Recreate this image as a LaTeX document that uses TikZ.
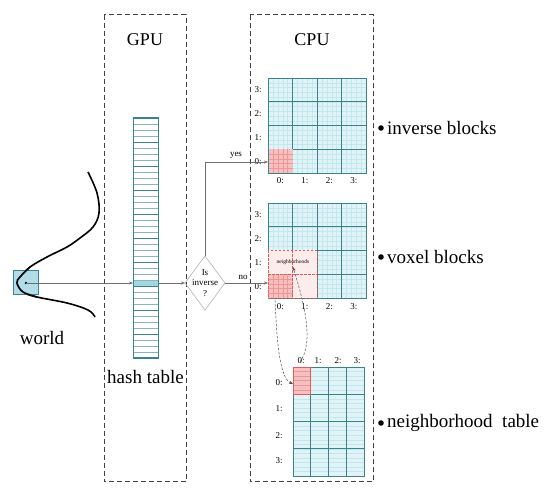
\documentclass[tikz,border=0pt]{standalone}
\usepackage{fontspec}
\setmainfont{Liberation Serif}
\usetikzlibrary{arrows.meta}
\definecolor{cyfill}{RGB}{224,243,246}
\definecolor{cyminor}{RGB}{196,230,237}
\definecolor{cymajor}{RGB}{60,130,140}
\definecolor{rdfill}{RGB}{247,192,192}
\definecolor{rdminor}{RGB}{238,150,150}
\definecolor{rdline}{RGB}{226,90,90}
\definecolor{pkfill}{RGB}{253,236,236}
\definecolor{hilite}{RGB}{160,215,228}
\definecolor{worldfill}{RGB}{150,210,225}
\definecolor{arrowgray}{RGB}{110,110,110}
\newcommand\cyanblock[4]{%
  \fill[cyfill] (#1,#2) rectangle ++(#3,#4);
  \foreach \i in {1,...,19} {
    \draw[minor] ({#1+\i*#3/20},#2) -- ++(0,#4);
    \draw[minor] (#1,{#2+\i*#4/20}) -- ++(#3,0);
  }
  \foreach \i in {1,2,3} {
    \draw[major] ({#1+\i*#3/4},#2) -- ++(0,#4);
    \draw[major] (#1,{#2+\i*#4/4}) -- ++(#3,0);
  }
}
\newcommand\redcell[4]{%
  \fill[rdfill] (#1,#2) rectangle ++(#3,#4);
  \foreach \i in {1,...,4} {
    \draw[rdminor] ({#1+\i*#3/5},#2) -- ++(0,#4);
    \draw[rdminor] (#1,{#2+\i*#4/5}) -- ++(#3,0);
  }
}
\begin{document}
\begin{tikzpicture}[x=1pt,y=-1pt,
  minor/.style={draw=cyminor, line width=0.3pt},
  major/.style={draw=cymajor, line width=0.6pt},
  rdminor/.style={draw=rdminor, line width=0.3pt},
  region/.style={draw=black!75, line width=1pt, dash pattern=on 5pt off 3pt},
  title/.style={font=\fontsize{18}{18}\selectfont, inner sep=0pt},
  biglabel/.style={font=\fontsize{19}{19}\selectfont, inner sep=0pt, anchor=west},
  small/.style={font=\fontsize{9}{9}\selectfont, inner sep=0pt},
  flow/.style={draw=arrowgray, line width=0.5pt, -{Stealth[length=4pt,width=3pt]}},
  link/.style={draw=black!70, line width=0.5pt, dash pattern=on 2.5pt off 1.5pt, -{Stealth[length=4pt,width=3pt]}},
  blockframe/.style={draw=cymajor, line width=0.7pt, inner sep=0pt, anchor=north west},
]
\useasboundingbox (0,0) rectangle (550,497);
\fill[white] (0,0) rectangle (550,497);

% dashed regions
\draw[region] (104,15) rectangle (186,482);
\draw[region] (250,15) rectangle (373,482);
\node[title] (gpu) at (145,40) {GPU};
\node[title] (cpu) at (312,40) {CPU};

% world
\draw[black, line width=1.6pt] plot[smooth, tension=0.6] coordinates {(88,172) (97,193) (99,213) (93,227) (80,238) (67,247) (47,257) (30,267) (20,277) (17,283) (23,292) (37,297) (67,303) (88,310) (95,317)};
\node[draw=cymajor, fill=worldfill, fill opacity=0.75, text opacity=1, line width=0.8pt, minimum width=25pt, minimum height=24pt, inner sep=0pt] (world) at (25.5,282) {};
\draw[black, line width=1.6pt] plot[smooth, tension=0.6] coordinates {(30,267) (20,277) (17,283) (23,292) (37,297)};
\fill (26,283) circle (1.3pt);
\coordinate (wdot) at (26,283);
\node[font=\fontsize{19}{19}\selectfont, inner sep=0pt] (worldlbl) at (42,338) {world};

% hash table
\node[draw=cymajor, line width=1pt, minimum width=25pt, minimum height=240pt, inner sep=0pt, anchor=north west] (hash) at (133,118) {};
\fill[hilite] (133,280) rectangle (158,286);
\foreach \r in {1,...,39} {
  \draw[draw=cymajor!60, line width=0.35pt] (133,{118+6*\r}) -- (158,{118+6*\r});
}
\foreach \r in {1,...,9} {
  \draw[draw=cymajor, line width=0.9pt] (133,{118+24*\r}) -- (158,{118+24*\r});
}
\draw[draw=cymajor, line width=1pt] (133,118) rectangle (158,358);
\coordinate (hashrow) at (133,283);
\coordinate (hashout) at (158,283);
\node[font=\fontsize{19}{19}\selectfont, inner sep=0pt] (hashlbl) at (145.5,377) {hash table};

% decision diamond
\coordinate (dl) at (185,283);
\coordinate (dr) at (225,283);
\coordinate (dt) at (205,256);
\coordinate (db) at (205,310);
\draw[draw=black!30, line width=0.6pt] (dl) -- (dt) -- (dr) -- (db) -- cycle;
\node[font=\fontsize{9}{10}\selectfont, align=center, inner sep=0pt] (isinv) at (205,283) {Is\\[0.3pt]inverse\\[0.3pt]?};

% inverse blocks
\cyanblock{268}{78}{98}{95}
\redcell{268}{149.25}{24.5}{23.75}
\node[blockframe, minimum width=98pt, minimum height=95pt] (inv) at (268,78) {};
\coordinate (invin) at (268,162);
\foreach \t/\y in {3/90,2/113.6,1/137.4,0/161.1} \node[small] (ir\t) at (258,\y) {\t:};
\foreach \t/\x in {0/280.25,1/304.75,2/329.25,3/353.75} \node[small] (ic\t) at (\x,181) {\t:};

% voxel blocks
\cyanblock{268}{203}{98}{95}
\node[blockframe, minimum width=98pt, minimum height=95pt] (vox) at (268,203) {};
\fill[pkfill] (268,250.5) rectangle (317,298);
\redcell{268}{274.25}{24.5}{23.75}
\draw[draw=rdline, line width=0.6pt, dash pattern=on 2.5pt off 1.5pt] (268,250.5) rectangle (317,298) (268,274.25) -- (317,274.25) (292.5,250.5) -- (292.5,298);
\node[font=\fontsize{5.5}{5.5}\selectfont, inner sep=0pt] (nbh) at (293,262) {neighborhoods};
\coordinate (voxin) at (268,283);
\foreach \t/\y in {3/215,2/239,1/263,0/287} \node[small] (vr\t) at (258,\y) {\t:};
\foreach \t/\x in {0/280.25,1/304.75,2/329.25,3/353.75} \node[small] (vc\t) at (\x,307) {\t:};

% neighborhood table
\fill[cyfill] (293,367) rectangle (364,476);
\foreach \i in {1,...,23} \draw[minor] (293,{367+\i*109/24}) -- (364,{367+\i*109/24});
\fill[rdfill] (293,367) rectangle (310.75,394.25);
\foreach \i in {1,...,5} \draw[rdminor] (293,{367+\i*27.25/6}) -- (310.75,{367+\i*27.25/6});
\foreach \i in {1,2,3} {
  \draw[major] ({293+\i*17.75},367) -- ++(0,109);
  \draw[major] (293,{367+\i*27.25}) -- ++(71,0);
}
\node[blockframe, minimum width=71pt, minimum height=109pt] (nbt) at (293,367) {};
\draw[draw=rdline, line width=0.6pt] (293,367) rectangle (310.75,394.25);
\foreach \t/\x in {0/301,1/318,2/338,3/357} \node[small] (nc\t) at (\x,361) {\t:};
\foreach \t/\y in {0/383,1/409,2/436,3/461} \node[small] (nr\t) at (279,\y) {\t:};

% flow connectors
\draw[flow] (wdot) -- (hashrow);
\draw[flow] (hashout) -- (dl);
\draw[draw=arrowgray, line width=0.5pt] (dt) -- (205,162);
\draw[flow] (205,162) -- (invin);
\node[small] (yes) at (236,155) {yes};
\draw[flow] (dr) -- (voxin);
\node[small] (no) at (243,277) {no};

% links between voxel blocks and neighborhood table
\coordinate (la) at (275,300);
\coordinate (lb) at (300,362);
\draw[link] (la) .. controls (277,345) and (280,378) .. (293,384);
\draw[link] (lb) .. controls (312,345) and (308,315) .. (293,267);

% right labels
\foreach \n/\y/\t in {lbinv/128/inverse blocks,lbvox/257/voxel blocks,lbnbt/423/neighborhood\ \ table} {
  \fill (381,\y) circle (2.8pt);
  \node[biglabel] (\n) at (387,\y) {\t};
}
\end{tikzpicture}
\end{document}
